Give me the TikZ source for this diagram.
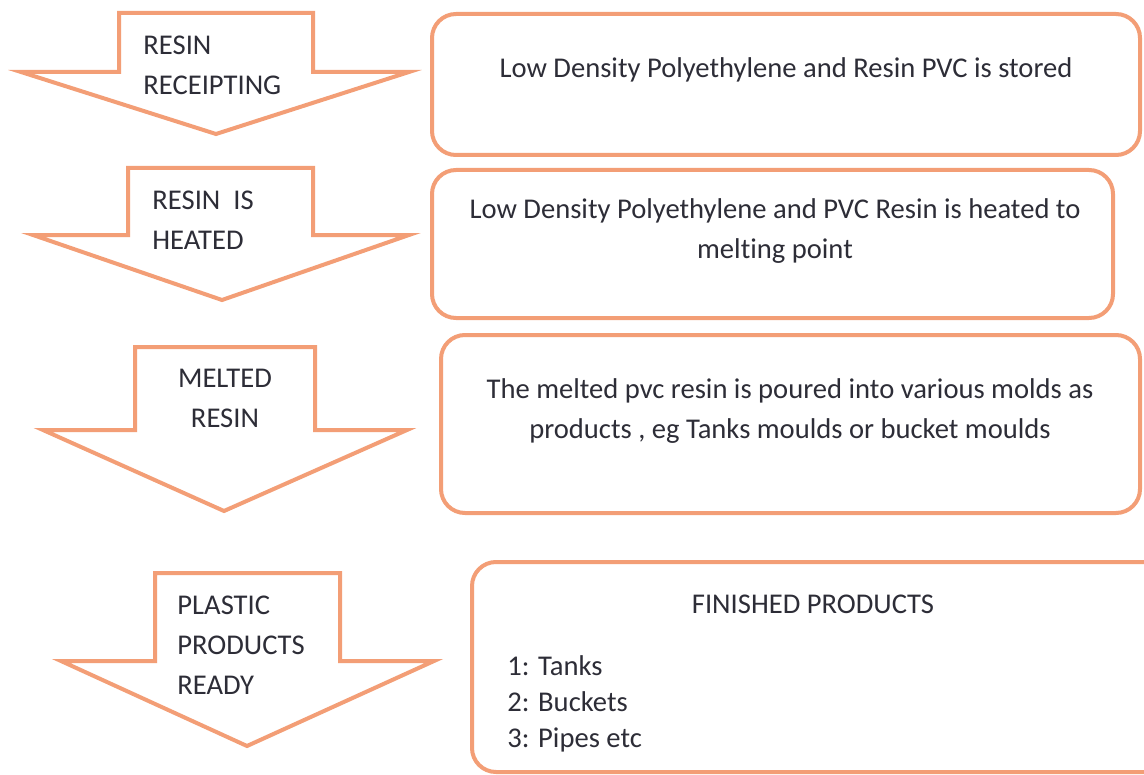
\documentclass[tikz,border=0pt]{standalone}
\usepackage{fontspec}
\setmainfont{Carlito}[Ligatures=NoCommon]
\usetikzlibrary{positioning}

\definecolor{peach}{RGB}{243,158,118}
\definecolor{inkgray}{RGB}{45,45,55}

\tikzset{
  steparrow/.style={draw=peach, line width=2pt, line join=miter, fill=white},
  stagebox/.style={draw=peach, line width=2pt, rounded corners=12pt, fill=white},
  steplabel/.style={text=inkgray, font=\fontsize{14.3}{20}\selectfont, inner sep=0pt},
}

\begin{document}
\begin{tikzpicture}[x=0.5pt, y=-0.5pt]
      \useasboundingbox (0,0) rectangle (1144,775);
      \clip (0,0) rectangle (1144,775);

      % down arrows on the left
      \draw[steparrow] (119,13) -- (313,13) -- (313,72) -- (409,72) -- (216,134) -- (21,72) -- (119,72) -- cycle;
      \draw[steparrow] (128,168) -- (313,168) -- (313,235) -- (409,235) -- (222,300) -- (33,235) -- (128,235) -- cycle;
      \draw[steparrow] (135,347) -- (315,347) -- (315,430) -- (407,430) -- (224,511) -- (43,430) -- (135,430) -- cycle;
      \draw[steparrow] (155,573) -- (340,573) -- (340,661) -- (434,661) -- (247,746) -- (61,661) -- (155,661) -- cycle;

      \node[steplabel, anchor=west, align=left]   at (143,65)  (receipt) {RESIN\\RECEIPTING};
      \node[steplabel, anchor=west, align=left]   at (152,220) (heat)    {RESIN\ \ IS\\HEATED};
      \node[steplabel, align=center]              at (225,398) (melt)    {MELTED\\RESIN};
      \node[steplabel, anchor=west, align=left]   at (177,645) (ready)   {PLASTIC\\PRODUCTS\\READY};

      % description boxes on the right
      \draw[stagebox] (432,14)  rectangle (1140,155);
      \draw[stagebox] (432,170) rectangle (1113,318);
      \draw[stagebox] (441,335) rectangle (1140,513);
      \draw[stagebox] (472,562) rectangle (1170,772);

      \node[steplabel]                  at (786,70)  (stored)   {Low Density Polyethylene and Resin PVC is stored};
      \node[steplabel, align=center]    at (775,231) (heated)   {Low Density Polyethylene and PVC Resin is heated to\\melting point};
      \node[steplabel, align=center]    at (790,411) (poured)   {The melted pvc resin is poured into various molds as\\products , eg Tanks moulds or bucket moulds};
      \node[steplabel]                  at (813,604) (finished) {FINISHED PRODUCTS};
      \node[steplabel, anchor=west, align=left, font=\fontsize{14.3}{18}\selectfont]
                                        at (507,704) (items)    {1: Tanks\\2: Buckets\\3: Pipes etc};

    \end{tikzpicture}
\end{document}
